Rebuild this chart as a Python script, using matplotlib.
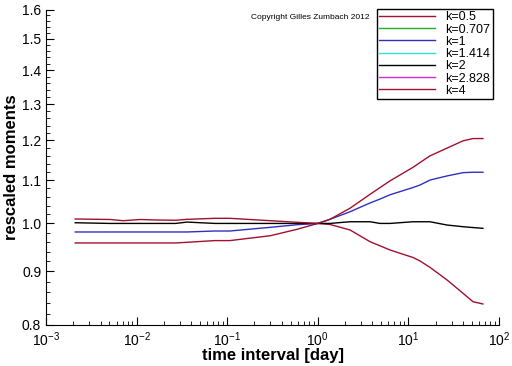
import matplotlib
matplotlib.use('Agg')
import matplotlib.pyplot as plt
from matplotlib.ticker import FixedLocator, FormatStrFormatter, NullFormatter

plt.rcParams['font.family'] = ['Liberation Sans', 'DejaVu Sans']

# time interval [day]
x_days = [0.0021, 0.0051, 0.0071, 0.011, 0.016, 0.027, 0.036, 0.073, 0.107, 0.3, 0.59,
          1.0, 1.36, 2.27, 3.77, 4.86, 6.27, 11.2, 13.4, 17.3, 26.7, 40.1, 51.6, 66.5]

# rescaled moments (k=0.707, 1.414, 2.828 are not drawn)
k_0_5 = [0.958, 0.958, 0.958, 0.958, 0.958, 0.958, 0.9594, 0.963, 0.963, 0.9734, 0.9872,
         1.0, 0.9978, 0.9857, 0.9607, 0.952, 0.9433, 0.928, 0.921, 0.908, 0.8832, 0.8577, 0.842, 0.8378]
k_1 = [0.9814, 0.9814, 0.9814, 0.9814, 0.9814, 0.9814, 0.9814, 0.9835, 0.9835, 0.9915, 0.9972,
       1.0, 1.009, 1.026, 1.046, 1.055, 1.065, 1.082, 1.088, 1.100, 1.110, 1.118, 1.119, 1.119]
k_2 = [1.0015, 1.0, 1.0, 1.0, 1.0, 1.0, 1.003, 1.0, 1.0, 1.0, 1.0,
       1.0, 1.0, 1.0037, 1.0037, 1.0, 1.0, 1.0037, 1.0037, 1.0037, 0.9965, 0.9928, 0.991, 0.9893]
k_4 = [1.0098, 1.0087, 1.006, 1.0087, 1.0076, 1.007, 1.009, 1.0113, 1.0113, 1.006, 1.0025,
       1.0, 1.009, 1.034, 1.066, 1.082, 1.098, 1.131, 1.143, 1.160, 1.180, 1.199, 1.205, 1.205]

series = [('k=0.5', k_0_5, '#a01030'),
          ('k=0.707', None, '#20b020'),
          ('k=1', k_1, '#3030c0'),
          ('k=1.414', None, '#30e0e0'),
          ('k=2', k_2, 'black'),
          ('k=2.828', None, '#d030d0'),
          ('k=4', k_4, '#a01030')]

fig = plt.figure(figsize=(5.12, 3.66), dpi=100)
ax = fig.add_axes([46/512, 41/366, 453/512, 315.5/366])

for label, vals, col in series:
    if vals is None:
        ax.plot([], [], color=col, lw=1, label=label)
    else:
        ax.plot(x_days, vals, color=col, lw=1, label=label)

ax.set_xscale('log')
ax.set_yscale('log')
ax.set_xlim(1e-3, 1e2)
ax.set_ylim(0.8, 1.6)

yticks = [0.8, 0.9, 1.0, 1.1, 1.2, 1.3, 1.4, 1.5, 1.6]
ax.yaxis.set_major_locator(FixedLocator(yticks))
ax.yaxis.set_major_formatter(FormatStrFormatter('%.1f'))
ax.yaxis.set_minor_locator(FixedLocator([0.8 + 0.02 * i for i in range(41)]))
ax.yaxis.set_minor_formatter(NullFormatter())

ax.spines['top'].set_visible(False)
ax.spines['right'].set_visible(False)
ax.tick_params(which='both', direction='in', labelsize=10, colors='black')
ax.tick_params(which='major', length=6)
ax.tick_params(which='minor', length=3)
ax.tick_params(axis='x', which='major', pad=4)

ax.set_xlabel('time interval [day]', fontsize=12, fontweight='bold', labelpad=-1)
ax.set_ylabel('rescaled moments', fontsize=12, fontweight='bold', labelpad=2)

fig.text(0.49, 0.948, 'Copyright Gilles Zumbach 2012', fontsize=6)

leg = ax.legend(loc='upper right', bbox_to_anchor=(499/512, 0.993), bbox_transform=fig.transFigure,
                fontsize=9, frameon=True, fancybox=False, edgecolor='black', framealpha=1,
                handlelength=4.5, labelspacing=0.02, borderpad=0.2, handletextpad=0.8)
leg.get_frame().set_linewidth(1)

fig.savefig('out.png', dpi=100)
